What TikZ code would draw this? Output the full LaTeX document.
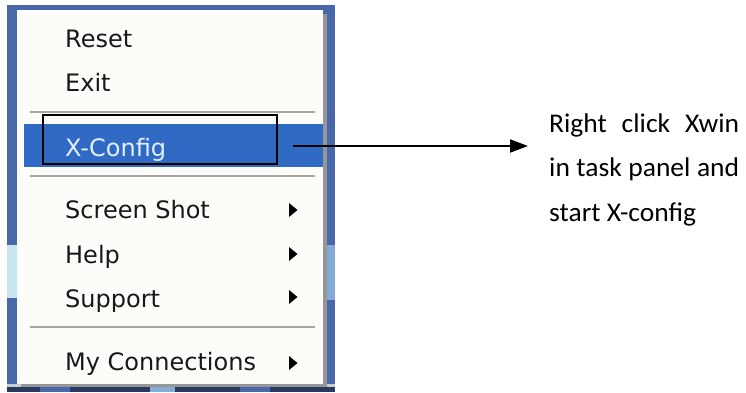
\documentclass[tikz,border=0pt]{standalone}
\usepackage{fontspec}
\usetikzlibrary{arrows.meta}
\newfontfamily\menufam{DejaVu Sans}
\newfontfamily\notefam{Carlito}[FakeStretch=1.02]
\definecolor{xpblue}{RGB}{72,104,170}
\definecolor{xplight}{RGB}{200,228,238}
\definecolor{xpmid}{RGB}{132,172,214}
\definecolor{hlblue}{RGB}{49,106,197}
\definecolor{menubg}{RGB}{252,252,248}
\definecolor{sepgray}{RGB}{170,166,158}
\definecolor{shadowgray}{RGB}{150,150,150}
\definecolor{menutext}{RGB}{24,24,24}
\definecolor{hltext}{RGB}{226,240,252}
\definecolor{taskdark}{RGB}{40,56,96}
\definecolor{taskgray}{RGB}{200,205,212}
\tikzset{
  menuitem/.style={font=\menufam\fontsize{24}{29}\selectfont, text=menutext, anchor=base west, inner sep=0pt},
  sepline/.style={draw=sepgray, line width=1.4pt},
  subarr/.style={fill=black},
  framebox/.style={draw=black, line width=1.8pt, minimum width=234pt, minimum height=49pt, inner sep=0pt},
  note/.style={font=\notefam\fontsize{27}{44.5}\selectfont, text=black, text width=190pt, align=justify, anchor=base west, inner sep=0pt},
  connector/.style={draw=black, line width=2pt, -{Triangle[length=18pt,width=13pt]}}
}
\begin{document}
\begin{tikzpicture}[x=1pt,y=-1pt]
\useasboundingbox (0,0) rectangle (746,392);
\fill[white] (0,0) rectangle (746,392);
% screenshot background
\fill[xpblue] (7,5) rectangle (335,392);
\fill[xplight] (7,245) rectangle (17,298);
\fill[xpmid] (327,245) rectangle (335,300);
\fill[taskgray] (7,384) rectangle (335,387);
\fill[taskdark] (7,387) rectangle (335,392);
\fill[xpblue] (40,387) rectangle (70,392);
\fill[xpmid] (150,387) rectangle (175,392);
\fill[xpblue] (240,387) rectangle (270,392);
% menu shadow and body
\fill[shadowgray] (21,14) rectangle (327,387);
\fill[menubg] (17,10) rectangle (323,384);
\draw[white, line width=1pt] (18.5,383) -- (18.5,11.5) -- (322,11.5);
% highlight
\fill[hlblue] (24,124) rectangle (323,167);
% separators
\draw[sepline] (30,112) -- (315,112);
\draw[sepline] (30,176) -- (315,176);
\draw[sepline] (30,327) -- (315,327);
% menu items
\node[menuitem] (reset) at (65,47) {Reset};
\node[menuitem] (exit) at (65,91) {Exit};
\node[menuitem, text=hltext] (xconfig) at (65,156) {X-Config};
\node[menuitem] (screenshot) at (65,218) {Screen Shot};
\node[menuitem] (help) at (65,263) {Help};
\node[menuitem] (support) at (65,307) {Support};
\node[menuitem] (myconn) at (65,370) {My Connections};
\fill[subarr] (289,203) -- (297.5,210) -- (289,217) -- cycle;
\fill[subarr] (289,247) -- (297.5,254) -- (289,261) -- cycle;
\fill[subarr] (289,290) -- (297.5,297) -- (289,304) -- cycle;
\fill[subarr] (289,356) -- (297.5,363) -- (289,370) -- cycle;
% frame round X-Config
\node[framebox] (xbox) at (160,139.5) {};
% note and arrow
\node[note] (notetext) at (549,132) {Right click Xwin\linebreak in task panel and\linebreak start X-config};
\coordinate (astart) at (293,146);
\coordinate (aend) at (528,146);
\draw[connector] (astart) -- (aend);
\end{tikzpicture}
\end{document}
